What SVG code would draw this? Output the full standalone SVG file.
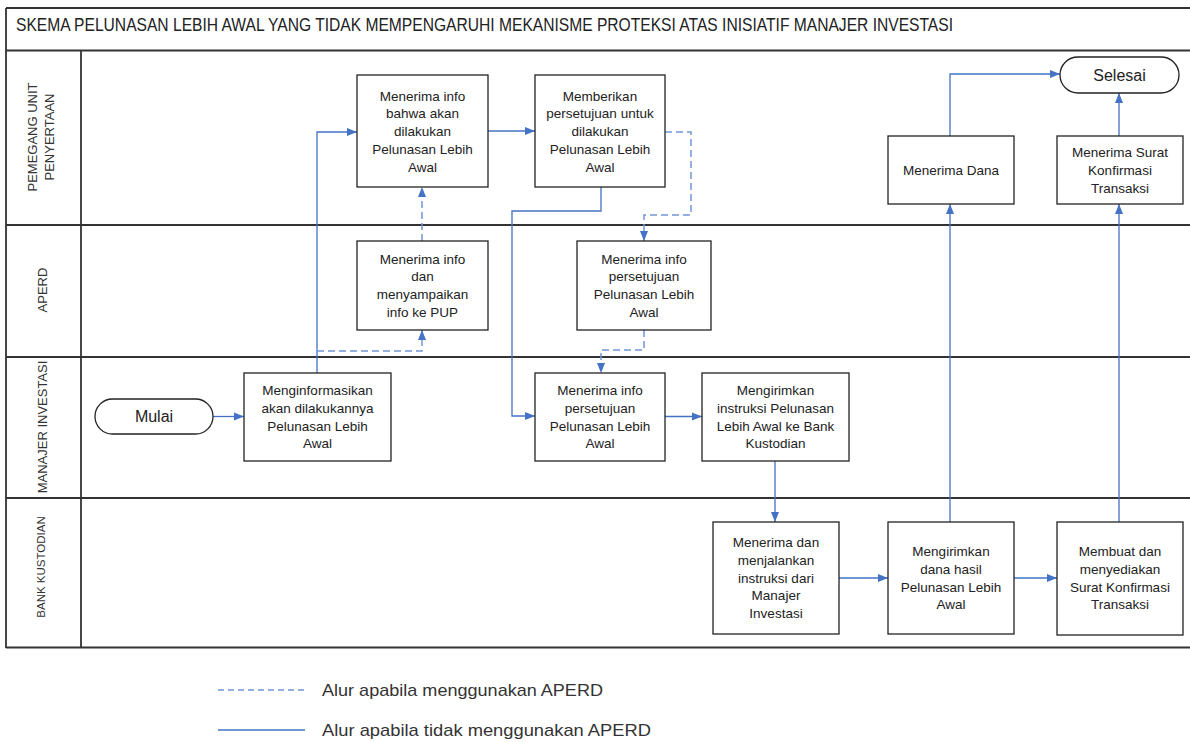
<svg xmlns="http://www.w3.org/2000/svg" width="1190" height="742" viewBox="0 0 1190 742">
<defs>
<style>
.frame{stroke:#333;stroke-width:1.8;fill:none}
.box{fill:#fff;stroke:#222;stroke-width:1.3}
.t{font-family:"Liberation Sans",Arial,sans-serif;font-size:13.5px;fill:#222;text-anchor:middle}
.term{font-family:"Liberation Sans",Arial,sans-serif;font-size:16px;fill:#222;text-anchor:middle}
.lane{font-family:"Liberation Sans",Arial,sans-serif;font-size:13px;fill:#333;text-anchor:middle}
.solid{stroke:#4472C4;stroke-width:1.3;fill:none}
.dash{stroke:#7096D8;stroke-width:1.5;fill:none;stroke-dasharray:7 4}
.leg{font-family:"Liberation Sans",Arial,sans-serif;font-size:17px;fill:#333}
</style>
<marker id="ah" markerUnits="userSpaceOnUse" markerWidth="10" markerHeight="10" viewBox="0 0 10 10" refX="10" refY="5" orient="auto">
<path d="M0,1 L10,5 L0,9 Z" fill="#4472C4"/>
</marker>
</defs>
<rect width="1190" height="742" fill="#fff"/>
<g id="frame">
<line class="frame" x1="6" y1="8" x2="1190" y2="8"/>
<line class="frame" x1="6" y1="8" x2="6" y2="648"/>
<line class="frame" x1="6" y1="50.5" x2="1190" y2="50.5"/>
<line class="frame" x1="6" y1="225" x2="1190" y2="225"/>
<line class="frame" x1="6" y1="357" x2="1190" y2="357"/>
<line class="frame" x1="6" y1="498" x2="1190" y2="498"/>
<line class="frame" x1="6" y1="647.5" x2="1190" y2="647.5"/>
<line class="frame" x1="81" y1="50.5" x2="81" y2="647.5"/>
<text x="16" y="30.5" font-family="'Liberation Sans',Arial,sans-serif" font-size="18" fill="#222" textLength="937" lengthAdjust="spacingAndGlyphs">SKEMA PELUNASAN LEBIH AWAL YANG TIDAK MEMPENGARUHI MEKANISME PROTEKSI ATAS INISIATIF MANAJER INVESTASI</text>
<text class="lane" transform="translate(37,137) rotate(-90)">PEMEGANG UNIT</text>
<text class="lane" transform="translate(54,137) rotate(-90)">PENYERTAAN</text>
<text class="lane" transform="translate(47,290) rotate(-90)">APERD</text>
<text class="lane" transform="translate(47,427) rotate(-90)">MANAJER INVESTASI</text>
<text class="lane" style="font-size:11.5px" transform="translate(45,567) rotate(-90)">BANK KUSTODIAN</text>
</g>
<g id="connectors">
<path class="solid" d="M213,416.5 H244" marker-end="url(#ah)"/>
<path class="solid" d="M317,373 V132 H357" marker-end="url(#ah)"/>
<path class="dash" d="M317,351 H422 V330" marker-end="url(#ah)"/>
<path class="dash" d="M422,241 V187" marker-end="url(#ah)"/>
<path class="solid" d="M488,131 H535" marker-end="url(#ah)"/>
<path class="dash" d="M665,132 H691 V215 H644 V241" marker-end="url(#ah)"/>
<path class="solid" d="M601,187 V211 H512 V416 H535" marker-end="url(#ah)"/>
<path class="dash" d="M644,330 V350 H601 V373" marker-end="url(#ah)"/>
<path class="solid" d="M665,416.5 H702" marker-end="url(#ah)"/>
<path class="solid" d="M775,461 V522" marker-end="url(#ah)"/>
<path class="solid" d="M839,578 H888" marker-end="url(#ah)"/>
<path class="solid" d="M1014,578 H1057" marker-end="url(#ah)"/>
<path class="solid" d="M950,522 V204" marker-end="url(#ah)"/>
<path class="solid" d="M950,136 V74 H1060" marker-end="url(#ah)"/>
<path class="solid" d="M1119,522 V204" marker-end="url(#ah)"/>
<path class="solid" d="M1119,136 V93" marker-end="url(#ah)"/>
</g>
<g id="n-pup1">
<rect class="box" x="357" y="75" width="131" height="112"/>
<text class="t" x="422.5" y="100.5"><tspan x="422.5">Menerima info</tspan><tspan x="422.5" dy="17.8">bahwa akan</tspan><tspan x="422.5" dy="17.8">dilakukan</tspan><tspan x="422.5" dy="17.8">Pelunasan Lebih</tspan><tspan x="422.5" dy="17.8">Awal</tspan></text>
</g>
<g id="n-pup2">
<rect class="box" x="535" y="75" width="130" height="112"/>
<text class="t" x="600" y="100.5"><tspan x="600">Memberikan</tspan><tspan x="600" dy="17.8">persetujuan untuk</tspan><tspan x="600" dy="17.8">dilakukan</tspan><tspan x="600" dy="17.8">Pelunasan Lebih</tspan><tspan x="600" dy="17.8">Awal</tspan></text>
</g>
<g id="n-dana">
<rect class="box" x="888" y="136" width="126" height="68"/>
<text class="t" x="951" y="175">Menerima Dana</text>
</g>
<g id="n-surat">
<rect class="box" x="1057" y="136" width="126" height="68"/>
<text class="t" x="1120" y="157"><tspan x="1120">Menerima Surat</tspan><tspan x="1120" dy="17.8">Konfirmasi</tspan><tspan x="1120" dy="17.8">Transaksi</tspan></text>
</g>
<g id="n-selesai">
<rect class="box" x="1060" y="57" width="119" height="36" rx="18"/>
<text class="term" x="1119.5" y="81">Selesai</text>
</g>
<g id="n-aperd1">
<rect class="box" x="357" y="241" width="131" height="89"/>
<text class="t" x="422.5" y="263.5"><tspan x="422.5">Menerima info</tspan><tspan x="422.5" dy="17.8">dan</tspan><tspan x="422.5" dy="17.8">menyampaikan</tspan><tspan x="422.5" dy="17.8">info ke PUP</tspan></text>
</g>
<g id="n-aperd2">
<rect class="box" x="577" y="241" width="134" height="89"/>
<text class="t" x="644" y="263.5"><tspan x="644">Menerima info</tspan><tspan x="644" dy="17.8">persetujuan</tspan><tspan x="644" dy="17.8">Pelunasan Lebih</tspan><tspan x="644" dy="17.8">Awal</tspan></text>
</g>
<g id="n-mulai">
<rect class="box" x="95" y="399" width="118" height="35" rx="17.5"/>
<text class="term" x="154" y="422">Mulai</text>
</g>
<g id="n-mi1">
<rect class="box" x="244" y="373" width="147" height="88"/>
<text class="t" x="317.5" y="395"><tspan x="317.5">Menginformasikan</tspan><tspan x="317.5" dy="17.8">akan dilakukannya</tspan><tspan x="317.5" dy="17.8">Pelunasan Lebih</tspan><tspan x="317.5" dy="17.8">Awal</tspan></text>
</g>
<g id="n-mi2">
<rect class="box" x="535" y="373" width="130" height="88"/>
<text class="t" x="600" y="395"><tspan x="600">Menerima info</tspan><tspan x="600" dy="17.8">persetujuan</tspan><tspan x="600" dy="17.8">Pelunasan Lebih</tspan><tspan x="600" dy="17.8">Awal</tspan></text>
</g>
<g id="n-mi3">
<rect class="box" x="702" y="373" width="147" height="88"/>
<text class="t" x="775.5" y="395"><tspan x="775.5">Mengirimkan</tspan><tspan x="775.5" dy="17.8">instruksi Pelunasan</tspan><tspan x="775.5" dy="17.8">Lebih Awal ke Bank</tspan><tspan x="775.5" dy="17.8">Kustodian</tspan></text>
</g>
<g id="n-bk1">
<rect class="box" x="713" y="522" width="126" height="112"/>
<text class="t" x="776" y="547"><tspan x="776">Menerima dan</tspan><tspan x="776" dy="17.8">menjalankan</tspan><tspan x="776" dy="17.8">instruksi dari</tspan><tspan x="776" dy="17.8">Manajer</tspan><tspan x="776" dy="17.8">Investasi</tspan></text>
</g>
<g id="n-bk2">
<rect class="box" x="888" y="522" width="126" height="112"/>
<text class="t" x="951" y="556"><tspan x="951">Mengirimkan</tspan><tspan x="951" dy="17.8">dana hasil</tspan><tspan x="951" dy="17.8">Pelunasan Lebih</tspan><tspan x="951" dy="17.8">Awal</tspan></text>
</g>
<g id="n-bk3">
<rect class="box" x="1057" y="522" width="126" height="113"/>
<text class="t" x="1120" y="556"><tspan x="1120">Membuat dan</tspan><tspan x="1120" dy="17.8">menyediakan</tspan><tspan x="1120" dy="17.8">Surat Konfirmasi</tspan><tspan x="1120" dy="17.8">Transaksi</tspan></text>
</g>
<g id="legend">
<line class="dash" x1="218" y1="690" x2="305" y2="690" style="stroke-dasharray:6 4"/>
<text class="leg" x="322" y="696" textLength="281" lengthAdjust="spacingAndGlyphs">Alur apabila menggunakan APERD</text>
<line class="solid" x1="218" y1="730" x2="305" y2="730"/>
<text class="leg" x="322" y="736" textLength="329" lengthAdjust="spacingAndGlyphs">Alur apabila tidak menggunakan APERD</text>
</g>
</svg>
